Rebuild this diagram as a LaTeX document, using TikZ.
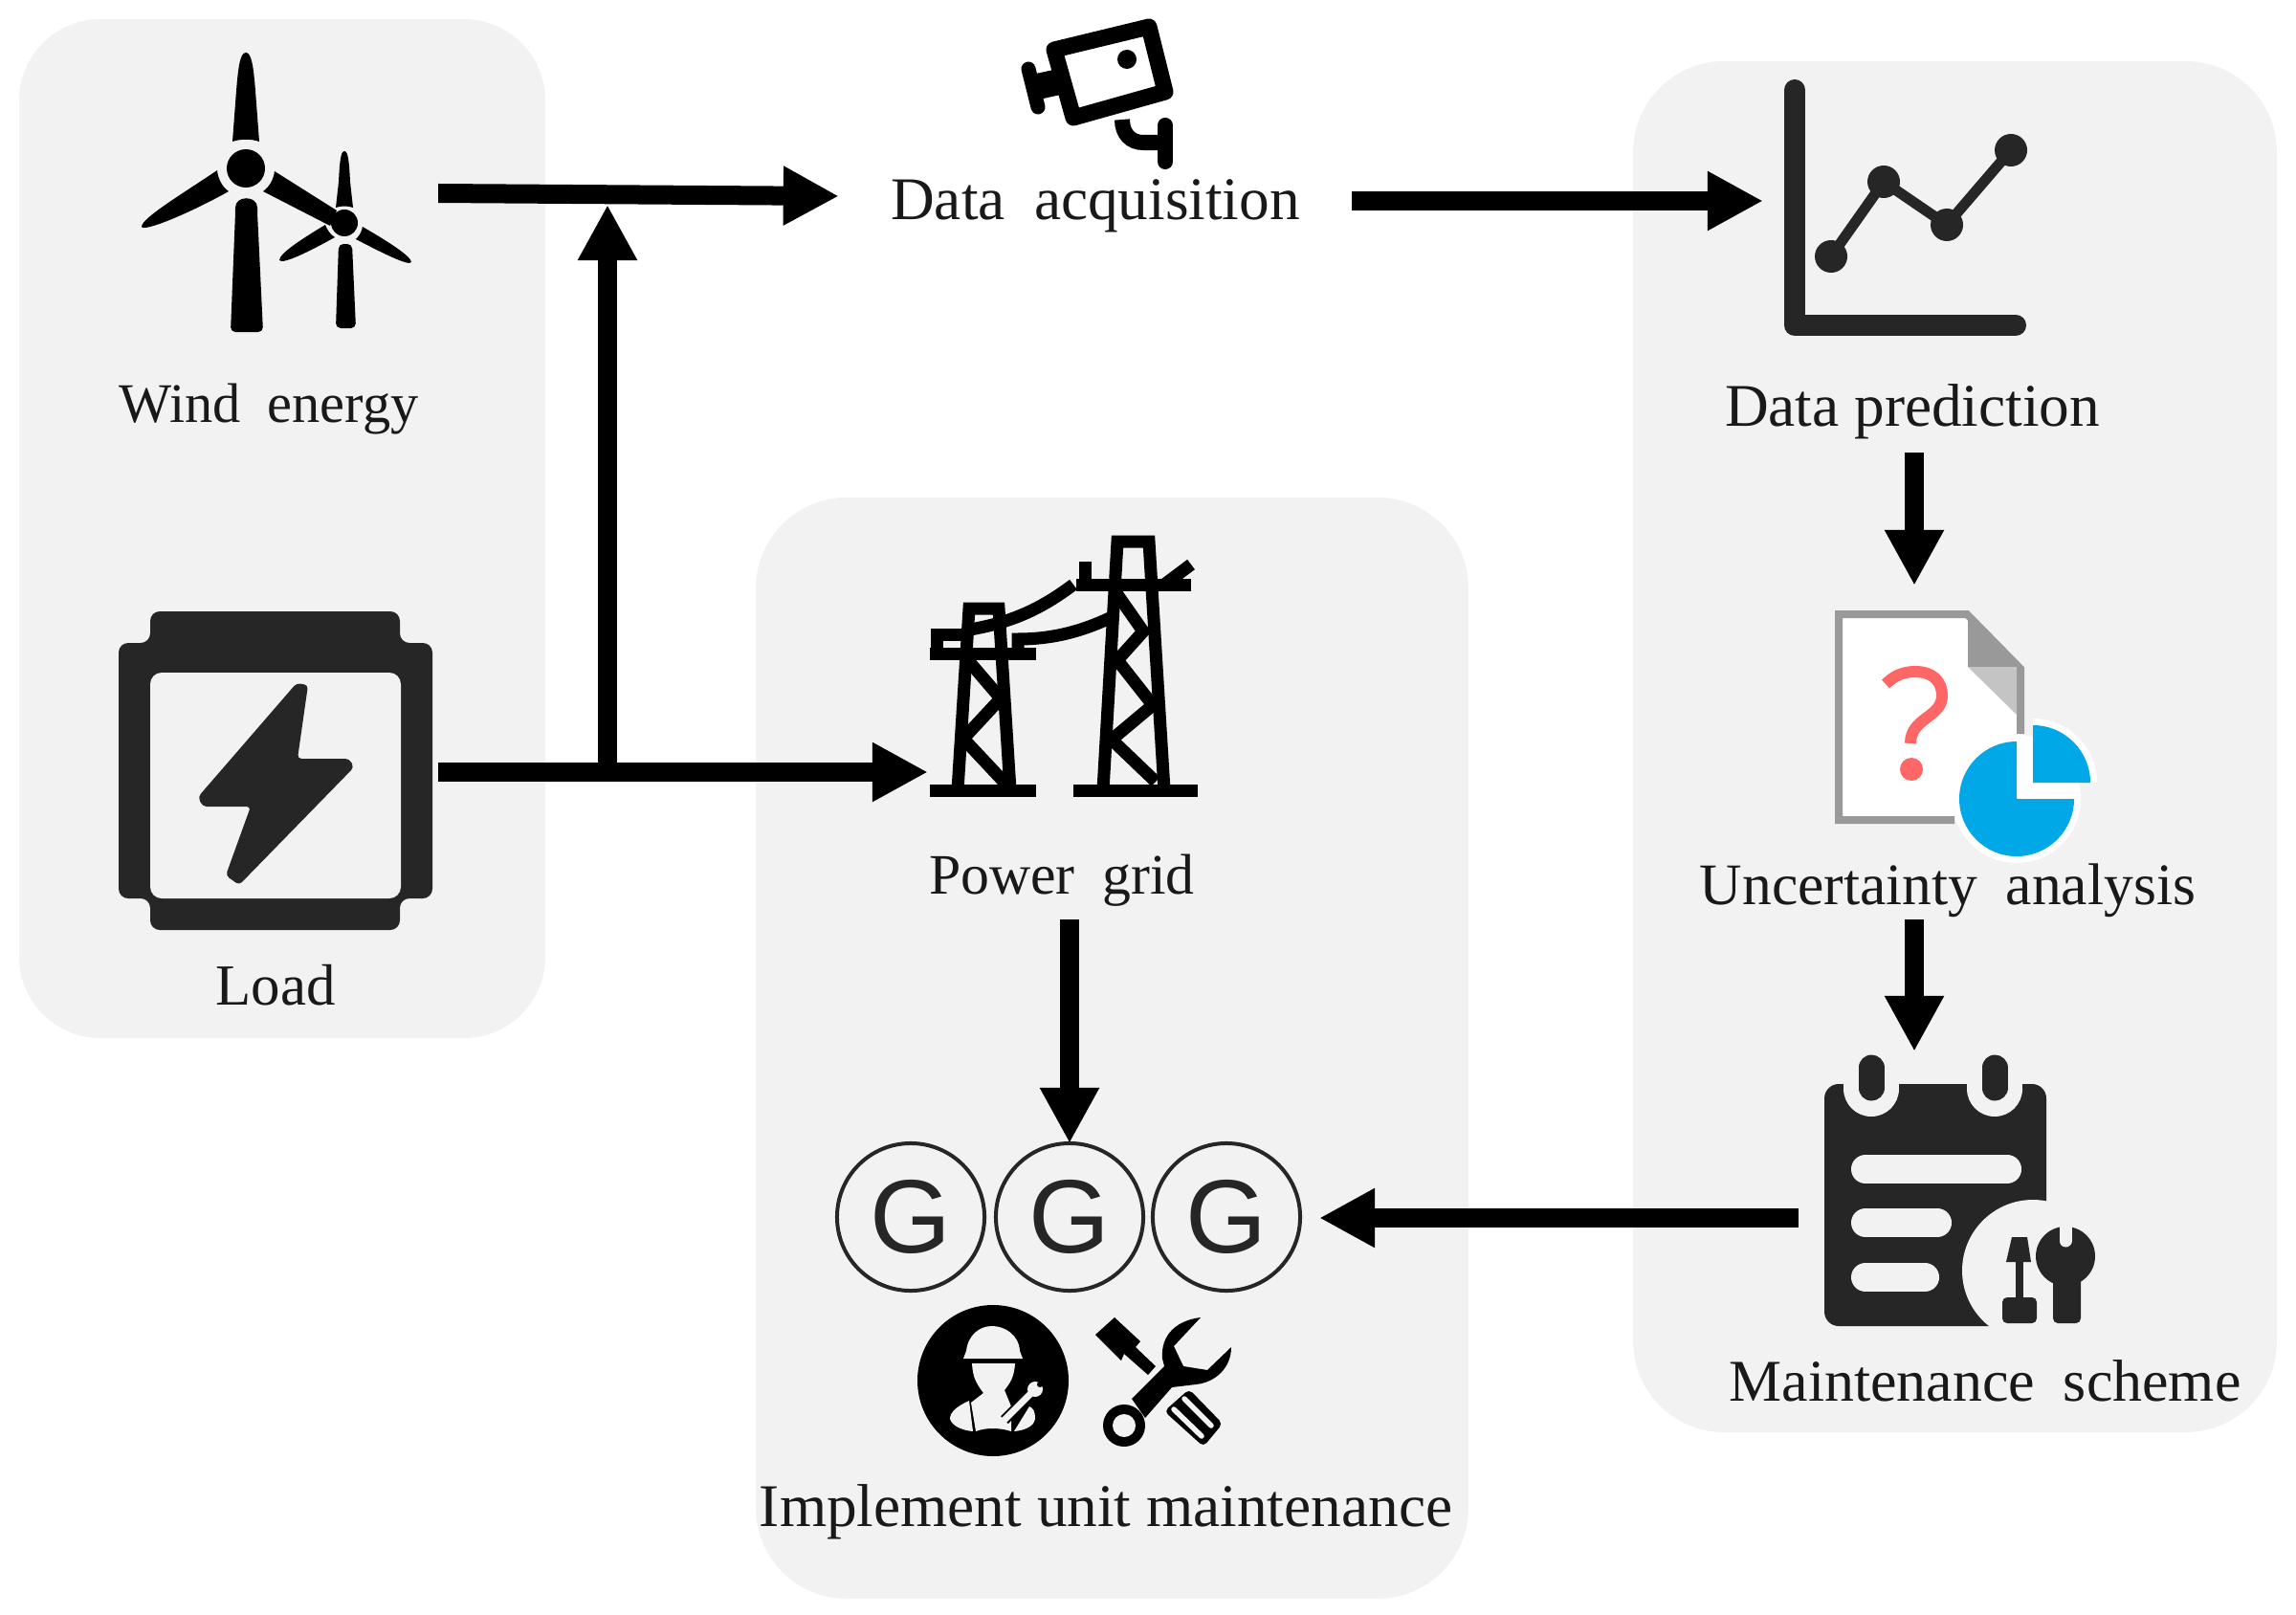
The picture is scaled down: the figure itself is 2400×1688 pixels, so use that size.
\documentclass[tikz,border=0pt]{standalone}
\usepackage{fontspec}
\setmainfont{Liberation Serif}
\newfontfamily\gfont{Liberation Sans}
\usetikzlibrary{arrows.meta}
\definecolor{panelgray}{HTML}{F2F2F2}
\definecolor{icondark}{HTML}{262626}
\definecolor{docgray}{HTML}{999999}
\definecolor{foldgray}{HTML}{C4C4C4}
\definecolor{askred}{HTML}{FF6666}
\definecolor{pieblue}{HTML}{00A8E8}
\tikzset{
	panel/.style={fill=panelgray, draw=none},
	flow/.style={draw=black, line width=.2cm, -{Triangle[length=.58cm,width=.58cm]}},
	slot/.style={inner sep=0pt, outer sep=0pt},
	caption/.style={inner sep=0pt, outer sep=0pt, text=black!90, font=\fontsize{#1}{21}\selectfont},
	caption/.default=18,
	wide/.style={execute at begin node={\spaceskip=.48em\relax}},
	gen/.style={circle, draw=icondark, line width=.04cm, minimum size=1.54cm, inner sep=0pt, outer sep=0pt,
		text=icondark, font=\gfont\fontsize{31}{31}\selectfont},
	truss/.style={draw=black, line width=.13cm},
	cut/.style={draw=panelgray, line cap=round},
}
\begin{document}
\begin{tikzpicture}[x=.01cm, y=-.01cm]
	\useasboundingbox (0,0) rectangle (2400,1688);

	\fill[panel, rounded corners=.85cm] (20,20) rectangle (570,1085);
	\fill[panel, rounded corners=.95cm] (790,520) rectangle (1535,1671);
	\fill[panel, rounded corners=.95cm] (1707,64) rectangle (2380,1497);

	% icon slots and captions
	\node[slot, minimum width=3.13cm, minimum height=2.8cm] (wind) at (301.5,202) {};
	\node[slot, minimum width=3.4cm, minimum height=3.3cm] (load) at (288,807) {};
	\node[slot, minimum width=2.8cm, minimum height=2.8cm] (tower) at (1110,696) {};
	\node[slot, minimum width=2.94cm, minimum height=2.8cm] (chart) at (1990,210) {};
	\node[slot, minimum width=2cm, minimum height=2.66cm] (doc) at (2001,745) {};
	\node[slot, minimum width=2.42cm, minimum height=3.48cm] (plan) at (2001,1273) {};

	\node[caption=16.6, wide] (windtxt) at (281,428) {Wind energy};
	\node[caption=17.3] (loadtxt) at (288,1030) {Load};
	\node[caption, wide, minimum width=5.36cm] (acq) at (1145,215) {Data acquisition};
	\node[caption, minimum height=.86cm] (pred) at (1999,430) {Data prediction};
	\node[caption=17.5, wide, minimum height=.6cm] (unc) at (2036,931) {Uncertainty analysis};
	\node[caption=17.6, wide] (scheme) at (2075,1443) {Maintenance scheme};
	\node[caption=17, wide, minimum height=.82cm] (grid) at (1110,920) {Power grid};
	\node[caption] (impl) at (1156,1580) {Implement unit maintenance};

	\node[gen] (gen1) at (952,1272) {G};
	\node[gen] (gen2) at (1118,1272) {G};
	\node[gen] (gen3) at (1282,1272) {G};

	\coordinate (merge) at (635,214);

	% connectors
	\draw[flow] (wind.east) -- ([yshift=.1cm]acq.west);
	\draw[flow] (load.east) -- (tower.west |- load.east);
	\draw[flow] (merge |- load.east) -- (merge);
	\draw[flow] (acq.east |- chart.west) -- (chart.west);
	\draw[flow] (pred.south -| doc.north) -- (doc.north);
	\draw[flow] (unc.south -| plan.north) -- (plan.north);
	\draw[flow] (plan.west) -- ([xshift=.2cm]gen3.east |- plan.west);
	\draw[flow] (grid.south -| gen2.north) -- (gen2.north);

	% wind turbines
	\fill (257,176) circle (20);
	\fill (243,148) -- (247,95) .. controls (249,70) and (251,55) .. (257,55) .. controls (263,55) and (265,70) .. (267,95) -- (271,148) .. controls (262,145) and (252,145) .. cycle;
	\fill (227,178) .. controls (190,203) and (148,228) .. (148,237) .. controls (150,243) and (200,222) .. (239,200) .. controls (232,195) and (228,187) .. cycle;
	\fill (287,179) -- (352,220) -- (345,236) -- (275,200) .. controls (282,195) and (286,187) .. cycle;
	\fill[rounded corners=.05cm] (246,222) .. controls (246,204) and (269,204) .. (269,222) -- (275,347) -- (241,347) -- cycle;
	\fill (360,233) circle (14);
	\fill (351,217) -- (354,190) .. controls (355,170) and (356,158) .. (360,158) .. controls (364,158) and (365,170) .. (366,190) -- (369,217) .. controls (364,215) and (356,215) .. cycle;
	\fill (340,235) .. controls (315,250) and (292,265) .. (292,272) .. controls (295,277) and (325,262) .. (350,248) .. controls (345,245) and (342,240) .. cycle;
	\fill (379,237) .. controls (405,252) and (430,268) .. (430,274) .. controls (428,279) and (395,262) .. (372,250) .. controls (376,246) and (378,242) .. cycle;
	\fill[rounded corners=.05cm] (354,255) -- (368,255) -- (372,343) -- (351,343) -- cycle;

	% camera
	\draw[line width=.17cm, line join=round] (1102,52) -- (1201,28) -- (1218,96) -- (1122,123) -- cycle;
	\fill (1178,62) circle (10);
	\draw[line width=.15cm, line cap=round] (1075,72) -- (1085,112);
	\draw[line width=.27cm] (1082,91) -- (1105,86);
	\draw[line width=.16cm] (1173,125) .. controls (1173,140) and (1182,149) .. (1195,149) -- (1218,149);
	\draw[line width=.16cm, line cap=round] (1218,131) -- (1218,169);

	% load
	\fill[icondark, rounded corners=.1cm] (157,639) -- (418,639) -- (418,672) -- (452,672) -- (452,939) -- (418,939) -- (418,972) -- (157,972) -- (157,939) -- (124,939) -- (124,672) -- (157,672) -- cycle;
	\fill[panelgray, rounded corners=.12cm] (157,703) -- (419,703) -- (419,939) -- (157,939) -- cycle;
	\fill[icondark, rounded corners=.04cm] (310,714) -- (322,716) -- (311,793) -- (365,793) -- (370,802) -- (250,925) -- (236,915) -- (262,843) -- (212,843) -- (207,833) -- cycle;

	% power towers
	\draw[truss] (1001,826) -- (1013,636) -- (1044,636) -- (1056,826);
	\draw[truss] (972,683) -- (1083,683);
	\draw[truss] (979,683) -- (979,663) -- (1012,663);
	\draw[truss] (1010,688) -- (1046,730) -- (1007,772) -- (1052,820);
	\draw[truss] (972,826.5) -- (1083,826.5);
	\draw[truss] (1014,658) .. controls (1060,650) and (1090,635) .. (1122,611);
	\draw[truss] (1064,683) -- (1064,668) .. controls (1100,668) and (1130,660) .. (1160,646);
	\draw[truss] (1153,826) -- (1168,566) -- (1201,566) -- (1217,826);
	\draw[truss] (1125,611) -- (1245,611);
	\draw[truss] (1134,587) -- (1134,611);
	\draw[truss] (1217,611) -- (1245,590);
	\draw[truss] (1167,620) -- (1195,660) -- (1168,690) -- (1205,737) -- (1162,773) -- (1208,817);
	\draw[truss] (1122,826.5) -- (1252,826.5);

	% chart
	\draw[icondark, line width=.22cm, line cap=round, line join=round] (1876,94) -- (1876,340) -- (2107,340);
	\draw[icondark, line width=.11cm] (1914,268) -- (1969,190) -- (2035,235) -- (2102,157);
	\foreach \px/\py in {1914/268, 1969/190, 2035/235, 2102/157}
		\fill[icondark] (\px,\py) circle (17);

	% uncertainty document
	\fill[white] (1922,642) -- (2057,642) -- (2112,697) -- (2112,857) -- (1922,857) -- cycle;
	\draw[docgray, line width=.08cm] (2112,767) -- (2112,699) -- (2056,642) -- (1922,642) -- (1922,857) -- (2043,857);
	\fill[docgray] (2057,640) -- (2057,697) -- (2114,697) -- cycle;
	\fill[foldgray] (2057,697) -- (2108,697) -- (2108,747) -- cycle;
	\draw[askred, line width=.12cm] (1971,715) .. controls (1980,706) and (1990,702) .. (2002,702) .. controls (2020,702) and (2030,712) .. (2030,727) .. controls (2030,750) and (1997,750) .. (1997,777);
	\fill[askred] (1998,804) circle (12);
	\fill[white] (2108,835) circle (67);
	\fill[white] (2125,818) -- (2125,751) arc (-90:0:67) -- cycle;
	\fill[pieblue] (2108,835) -- (2108,775) arc (-90:-360:60) -- cycle;
	\fill[pieblue] (2125,818) -- (2125,758) arc (-90:0:60) -- cycle;

	% maintenance plan
	\fill[icondark, rounded corners=.15cm] (1907,1133) -- (2139,1133) -- (2139,1386) -- (1907,1386) -- cycle;
	\fill[panelgray] (1956,1138) circle (29);
	\fill[panelgray] (1927,1100) rectangle (1985,1138);
	\fill[panelgray] (2085,1138) circle (29);
	\fill[panelgray] (2056,1100) rectangle (2114,1138);
	\draw[icondark, line width=.27cm, line cap=round] (1956,1116) -- (1956,1137);
	\draw[icondark, line width=.27cm, line cap=round] (2085,1116) -- (2085,1137);
	\foreach \ly/\lx in {1222/2098, 1278/2025, 1335/2012}
		\draw[cut, line width=.3cm] (1950,\ly) -- (\lx,\ly);
	\fill[panelgray] (2125,1328) circle (74);
	\fill[panelgray] (2139,1260) rectangle (2199,1390);
	\fill[panelgray] (2082,1386) rectangle (2140,1392);
	\fill[icondark] (2103,1293) -- (2119,1293) -- (2123,1319) -- (2097,1319) -- cycle;
	\fill[icondark] (2107,1319) rectangle (2115,1360);
	\fill[icondark, rounded corners=.05cm] (2093,1356) rectangle (2129,1383);
	\fill[icondark] (2159,1313) circle (31);
	\fill[icondark, rounded corners=.05cm] (2146,1330) rectangle (2175,1383);
	\draw[cut, line width=.13cm] (2159,1278) -- (2159,1297);

	% worker
	\fill (1038,1443) circle (79);
	\fill[panelgray] (1007,1420) -- (1069,1420) -- (1066,1412) .. controls (1065,1395) and (1050,1386) .. (1037,1386) .. controls (1024,1386) and (1012,1395) .. (1010,1412) -- cycle;
	\fill[panelgray] (1016,1425) -- (1061,1425) .. controls (1060,1440) and (1056,1445) .. (1050,1453) -- (1057,1470) -- (1057,1496) .. controls (1045,1492) and (1030,1492) .. (1020,1496) -- (1015,1466) -- (1028,1456) .. controls (1020,1445) and (1017,1440) .. cycle;
	\fill[panelgray] (1013,1464) .. controls (1000,1470) and (993,1476) .. (993,1483) .. controls (995,1490) and (1005,1495) .. (1017,1496) -- cycle;
	\fill[panelgray] (1060,1496) .. controls (1072,1495) and (1082,1490) .. (1082,1482) .. controls (1082,1475) and (1080,1472) .. (1076,1470) -- cycle;
	\draw[draw=black, line width=.11cm] (1050,1484) -- (1078,1456);
	\draw[draw=panelgray, line width=.07cm, line cap=round] (1050,1484) -- (1078,1456);
	\fill[panelgray] (1082,1452) circle (8);
	\fill (1087,1447) circle (3);

	% tools
	\fill (1165,1377) -- (1192,1402) -- (1187,1408) -- (1208,1428) -- (1200,1437) -- (1175,1415) -- (1172,1422) -- (1145,1395) -- cycle;
	\fill (1255,1377) .. controls (1230,1380) and (1213,1395) .. (1215,1420) -- (1217,1428) -- (1183,1462) -- (1197,1482) -- (1225,1450) -- (1250,1447) .. controls (1270,1445) and (1287,1430) .. (1287,1408) -- (1262,1432) -- (1237,1428) -- (1227,1407) -- cycle;
	\fill (1175,1490) circle (22);
	\fill[panelgray] (1175,1490) circle (12);
	\fill[rounded corners=.05cm] (1243,1452) -- (1278,1488) -- (1258,1512) -- (1217,1475) -- cycle;
	\draw[cut, line width=.055cm] (1238,1462) -- (1266,1490);
	\draw[cut, line width=.055cm] (1227,1473) -- (1256,1501);
\end{tikzpicture}
\end{document}
